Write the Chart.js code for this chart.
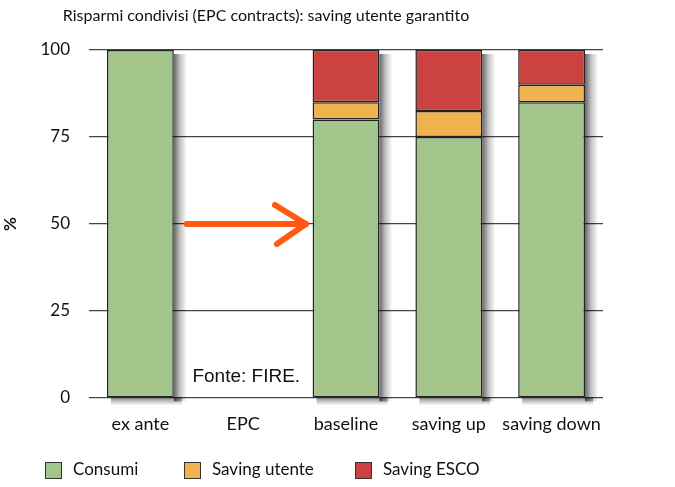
<!DOCTYPE html>
<html>
<head>
<meta charset="utf-8">
<script src="https://cdn.jsdelivr.net/npm/chart.js@4.4.0/dist/chart.umd.min.js"></script>
<style>
html,body{margin:0;padding:0;background:#fff;}
#wrap{width:675px;height:487px;position:relative;}
</style>
</head>
<body>
<div id="wrap"><canvas id="c" width="675" height="487"></canvas></div>
<script>
const TITLE = "Risparmi condivisi (EPC contracts): saving utente garantito";
const categories = ["ex ante", "EPC", "baseline", "saving up", "saving down"];
const consumi = [100, null, 80, 75, 85];
const savingUtente = [null, null, 5, 7.5, 5];
const savingEsco = [null, null, 15, 17.5, 10];
const seriesNames = ["Consumi", "Saving utente", "Saving ESCO"];
const yTicks = [0, 25, 50, 75, 100];
const yTitle = "%";
const sourceNote = "Fonte: FIRE.";
// arrow annotation in data units (category index, value)
const arrowFrom = {x: 0.45, y: 50};
const arrowTo = {x: 1.61, y: 50};
const notePos = {x: 1.03, y: 6};

const colors = ["#a3c48b", "#efb24c", "#cc4241"];
const FONT = "Lato, 'Open Sans', sans-serif";

const shadowPlugin = {
  id: 'shadow',
  beforeDatasetsDraw(chart) {
    const ctx = chart.ctx;
    const metas = chart.getSortedVisibleDatasetMetas();
    ctx.save();
    categories.forEach((c, i) => {
      let top = Infinity, bottom = -Infinity, cx = null, w = 0;
      metas.forEach(m => {
        const el = m.data[i];
        const v = chart.data.datasets[m.index].data[i];
        if (!el || v === null || v === undefined) return;
        top = Math.min(top, el.y, el.base);
        bottom = Math.max(bottom, el.y, el.base);
        cx = el.x; w = el.width;
      });
      if (cx === null) return;
      const r = cx + w / 2;
      const l = cx - w / 2;
      // right side shadow
      let g = ctx.createLinearGradient(r, 0, r + 13, 0);
      g.addColorStop(0, 'rgba(0,0,0,0.6)');
      g.addColorStop(0.45, 'rgba(0,0,0,0.25)');
      g.addColorStop(1, 'rgba(0,0,0,0)');
      ctx.fillStyle = g;
      ctx.fillRect(r, top + 4, 13, bottom - top);
      // bottom shadow
      g = ctx.createLinearGradient(0, bottom, 0, bottom + 8);
      g.addColorStop(0, 'rgba(0,0,0,0.45)');
      g.addColorStop(1, 'rgba(0,0,0,0)');
      ctx.fillStyle = g;
      ctx.fillRect(l + 4, bottom, w + 4, 8);
    });
    ctx.restore();
  }
};

const annotPlugin = {
  id: 'annot',
  afterDatasetsDraw(chart) {
    const ctx = chart.ctx;
    const xs = chart.scales.x, ys = chart.scales.y;
    const px = v => xs.left + (v + 0.5) * (xs.width / categories.length);
    const x0 = px(arrowFrom.x), y0 = ys.getPixelForValue(arrowFrom.y);
    const x1 = px(arrowTo.x), y1 = ys.getPixelForValue(arrowTo.y);
    ctx.save();
    ctx.strokeStyle = '#ff5a12';
    ctx.lineWidth = 6;
    ctx.lineCap = 'round';
    ctx.lineJoin = 'round';
    ctx.beginPath();
    ctx.moveTo(x0, y0);
    ctx.lineTo(x1, y1);
    ctx.stroke();
    ctx.beginPath();
    ctx.moveTo(x1 - 31, y1 - 19);
    ctx.lineTo(x1, y1);
    ctx.lineTo(x1 - 29, y1 + 20);
    ctx.stroke();
    // source note
    ctx.fillStyle = '#111';
    ctx.font = "19px 'Liberation Sans', Arial, sans-serif";
    ctx.textAlign = 'center';
    ctx.textBaseline = 'middle';
    ctx.fillText(sourceNote, px(notePos.x), ys.getPixelForValue(notePos.y));
    ctx.restore();
  },
  afterDraw(chart) {
    const ctx = chart.ctx;
    ctx.save();
    // title
    ctx.fillStyle = '#111';
    ctx.font = "16px " + FONT;
    ctx.textAlign = 'center';
    ctx.textBaseline = 'middle';
    ctx.fillText(TITLE, 266, 16);
    // legend
    const boxX = [45, 184, 355];
    const yc = 470;
    ctx.font = "17px " + FONT;
    ctx.textBaseline = 'middle';
    ctx.textAlign = 'left';
    chart.data.datasets.forEach((ds, i) => {
      ctx.fillStyle = ds.backgroundColor;
      ctx.fillRect(boxX[i], yc - 8, 17, 17);
      ctx.strokeStyle = '#333';
      ctx.lineWidth = 1;
      ctx.strokeRect(boxX[i] + 0.5, yc - 8 + 0.5, 16, 16);
      ctx.fillStyle = '#111';
      ctx.fillText(ds.label, boxX[i] + 28, yc);
    });
    ctx.restore();
  }
};

new Chart(document.getElementById('c'), {
  type: 'bar',
  data: {
    labels: categories,
    datasets: [
      {label: seriesNames[0], data: consumi, backgroundColor: colors[0]},
      {label: seriesNames[1], data: savingUtente, backgroundColor: colors[1]},
      {label: seriesNames[2], data: savingEsco, backgroundColor: colors[2]}
    ].map(d => Object.assign(d, {borderColor: '#222', borderWidth: 1.5, borderSkipped: false, categoryPercentage: 0.65, barPercentage: 1}))
  },
  options: {
    responsive: false,
    animation: false,
    layout: {padding: {top: 50, right: 72, bottom: 0, left: 0}},
    plugins: {
      legend: {display: false},
      tooltip: {enabled: false},
      title: {display: false}
    },
    scales: {
      x: {
        stacked: true,
        grid: {display: false},
        border: {display: false},
        ticks: {color: '#111', font: {family: FONT, size: 18}, padding: 7, maxRotation: 0},
        afterFit(s) { s.height = 89; }
      },
      y: {
        stacked: true,
        min: 0, max: 100,
        afterBuildTicks(s) { s.ticks = yTicks.map(v => ({value: v})); },
        grid: {color: '#444', lineWidth: 1.2, drawTicks: false},
        border: {display: false},
        ticks: {color: '#111', font: {family: FONT, size: 17}, padding: 19},
        title: {display: true, text: yTitle, color: '#111', font: {family: FONT, size: 17, weight: 'bold'}, padding: {top: 0, bottom: 0}},
        afterFit(s) { s.width = 89; }
      }
    }
  },
  plugins: [shadowPlugin, annotPlugin]
});
</script>
</body>
</html>
